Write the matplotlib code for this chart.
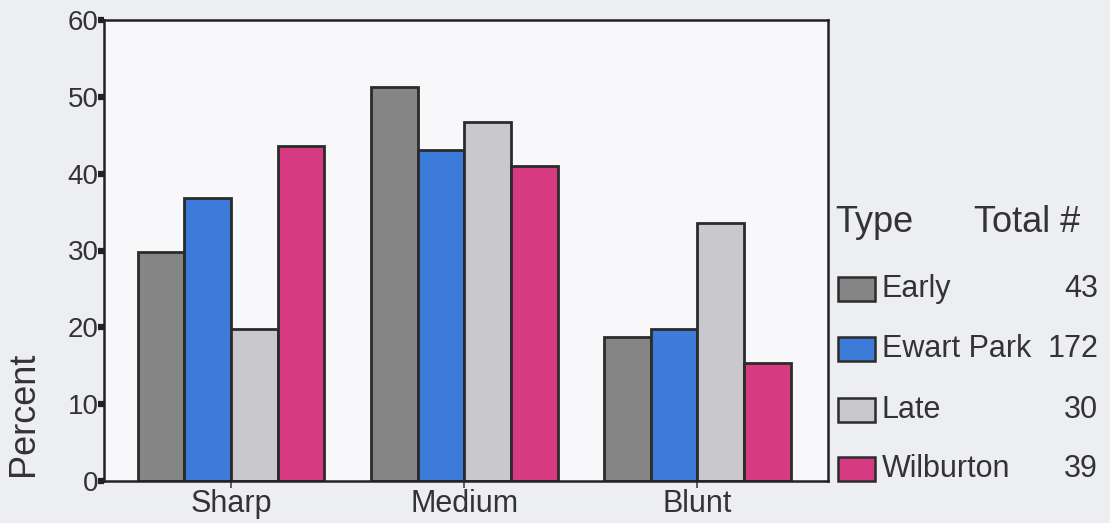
import numpy as np
import matplotlib.pyplot as plt
from matplotlib.patches import Rectangle

plt.rcParams["font.family"] = ["Liberation Sans", "DejaVu Sans"]

categories = ["Sharp", "Medium", "Blunt"]
types = ["Early", "Ewart Park", "Late", "Wilburton"]
totals = [43, 172, 30, 39]
early = [29.8, 51.3, 18.8]
ewart_park = [36.8, 43.1, 19.8]
late = [19.8, 46.7, 33.6]
wilburton = [43.6, 41.0, 15.4]
colors = ["#858585", "#3d7bd9", "#c9c9cd", "#d63a80"]

bg = "#eceef1"
W, H = 1110, 523
fig = plt.figure(figsize=(W / 100, H / 100), dpi=100, facecolor=bg)
ax = fig.add_axes([104 / W, 1 - 481 / H, 724 / W, 461 / H])
ax.set_facecolor("#f8f8fa")

x = np.arange(len(categories))
w = 0.2
series = [early, ewart_park, late, wilburton]
for i, vals in enumerate(series):
    ax.bar(x + (i - 1.5) * w, vals, width=w, color=colors[i],
           edgecolor="#2b2b2b", linewidth=2, zorder=2)

ax.set_xlim(-0.545, 2.56)
ax.set_ylim(0, 60)
ax.set_yticks(range(0, 61, 10))
ax.set_xticks(x)
ax.set_xticklabels(categories, fontsize=22, color="#333333")
ax.tick_params(axis="y", direction="out", length=4, width=4.5, pad=0,
               labelsize=20, labelcolor="#333333", color="#222222")
ax.tick_params(axis="x", direction="out", length=5, width=1.2, pad=1,
               color="#444444")
for s in ax.spines.values():
    s.set_linewidth(1.8)
    s.set_color("#222222")

fig.text(24 / W, 1 - 414 / H, "Percent", rotation=90, fontsize=26, color="#333333",
         ha="center", va="center")

# legend block
fig.text(835 / W, 1 - 222 / H, "Type", fontsize=26, color="#333333", va="center")
fig.text(1080 / W, 1 - 222 / H, "Total #", fontsize=26, color="#333333",
         va="center", ha="right")
ys = [289, 349, 410, 469]
for name, tot, c, yp in zip(types, totals, colors, ys):
    yf = 1 - yp / H
    fig.add_artist(Rectangle((838 / W, yf - 12 / H), 37 / W, 24 / H,
                             transform=fig.transFigure, facecolor=c,
                             edgecolor="#2b2b2b", linewidth=1.8))
    fig.text(882 / W, yf, name, fontsize=22, color="#333333", va="center")
    fig.text(1098 / W, yf, str(tot), fontsize=22, color="#333333",
             va="center", ha="right")

fig.savefig("out.png", dpi=100, facecolor=bg)
